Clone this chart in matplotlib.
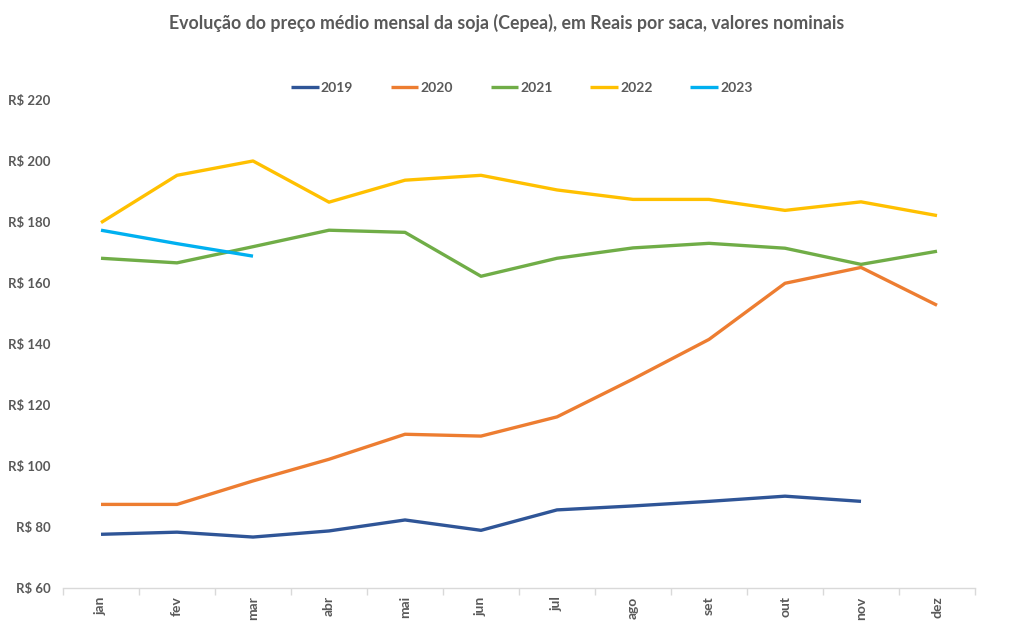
import numpy as np
import matplotlib
matplotlib.use('Agg')
import matplotlib.pyplot as plt
from matplotlib.ticker import FixedLocator

# %% DATA (R$ per saca, nominal)

months = ['jan', 'fev', 'mar', 'abr', 'mai', 'jun', 'jul', 'ago', 'set', 'out', 'nov', 'dez']

soja_2019 = [77.6, 78.3, 76.7, 78.7, 82.3, 78.9, 85.6, 86.9, 88.4, 90.1, 88.4]
soja_2020 = [87.4, 87.4, 95.1, 102.2, 110.4, 109.8, 116.1, 128.5, 141.5, 159.9, 165.1, 152.7]
soja_2021 = [168.1, 166.6, 171.9, 177.3, 176.6, 162.2, 168.1, 171.5, 173.0, 171.4, 166.1, 170.4]
soja_2022 = [179.8, 195.3, 200.0, 186.5, 193.7, 195.3, 190.5, 187.4, 187.4, 183.8, 186.6, 182.1]
soja_2023 = [177.3, 172.9, 168.8]

years  = ['2019', '2020', '2021', '2022', '2023']
series = [soja_2019, soja_2020, soja_2021, soja_2022, soja_2023]
colors = ['#2F5597', '#ED7D31', '#70AD47', '#FFC000', '#00B0F0']

yticks = [60, 80, 100, 120, 140, 160, 180, 200, 220]

# %% PLOT

plt.rcParams['font.family'] = ['Lato', 'DejaVu Sans']
txtColor = '#595959'

fig = plt.figure(figsize=(10.13, 6.3), dpi=100)
ax = fig.add_axes([0.0622, 0.0667, 0.9003, 0.7746])

for yr, vals, c in zip(years, series, colors):
    ax.plot(np.arange(len(vals)), vals, color=c, lw=2.4, label=yr,
            solid_joinstyle='round', solid_capstyle='butt')

ax.set_xlim(-0.5, 11.5)
ax.set_ylim(60, 220)
ax.set_xticks(np.arange(len(months)))
ax.set_xticklabels(months, rotation=90, fontsize=10, fontweight='bold', color=txtColor)
ax.xaxis.set_minor_locator(FixedLocator(np.arange(-0.5, 12, 1)))
ax.tick_params(axis='x', which='major', length=0, pad=6)
ax.tick_params(axis='x', which='minor', length=5, color='#D9D9D9', width=1)

ax.set_yticks(yticks)
ax.set_yticklabels(['R$ %d' % v for v in yticks], fontsize=9.5, fontweight='bold', color=txtColor)
ax.tick_params(axis='y', length=0, pad=9)

for s in ['top', 'right', 'left']:
    ax.spines[s].set_visible(False)
ax.spines['bottom'].set_color('#D9D9D9')
ax.spines['bottom'].set_linewidth(1)

fig.text(0.5, 0.963, 'Evolução do preço médio mensal da soja (Cepea), em Reais por saca, valores nominais',
         ha='center', va='center', fontsize=12.8, fontweight='bold', color=txtColor)

leg = fig.legend(loc='center', bbox_to_anchor=(0.515, 0.860), ncol=5, frameon=False,
                 handlelength=2.0, handletextpad=0.15, columnspacing=2.7,
                 prop={'size': 10, 'weight': 'bold'})
for t in leg.get_texts():
    t.set_color(txtColor)

fig.savefig('out.png', dpi=100)
